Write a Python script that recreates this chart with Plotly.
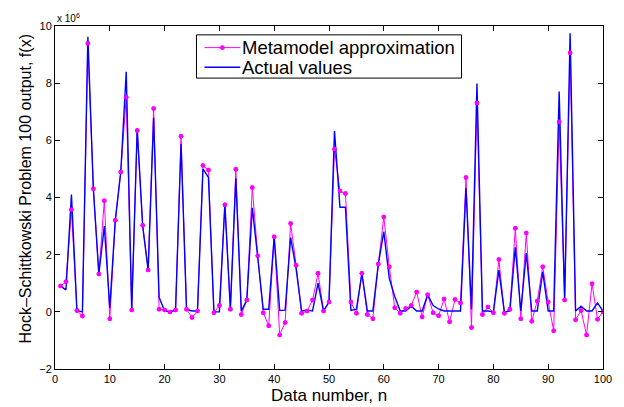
import plotly.graph_objects as go

n = list(range(1, 101))

# values in units of 1e6
metamodel = [0.9, 1.05, 3.58, 0.05, -0.15, 9.39, 4.31, 1.32, 3.89, -0.24,
             3.2, 4.89, 7.51, 0.06, 6.34, 3.03, 1.46, 7.11, 0.09, 0.06,
             -0.01, 0.06, 6.14, 0.09, -0.2, 0.03, 5.12, 4.96, -0.03, 0.22,
             3.75, 0.09, 4.99, -0.09, 0.41, 4.35, 1.96, -0.03, -0.49, 2.63,
             -0.81, -0.37, 3.09, 1.63, -0.05, 0.03, 0.41, 1.35, 0.03, 0.34,
             5.7, 4.23, 4.14, 0.34, -0.05, 1.35, -0.09, -0.24, 1.67, 3.32,
             1.58, 0.14, -0.05, 0.12, 0.22, 0.69, -0.18, 0.6, -0.03, -0.14,
             0.45, -0.35, 0.43, 0.31, 4.7, -0.55, 7.31, -0.09, 0.17, -0.03,
             1.83, -0.05, 0.09, 2.92, -0.24, 2.76, -0.33, 0.38, 1.58, 0.34,
             -0.66, 6.65, 0.41, 9.06, -0.28, 0.05, -0.81, 0.98, -0.26, 0.0]

actual = [0.9, 0.77, 4.1, 0.05, 0.0, 9.62, 4.3, 1.32, 3.0, 0.14,
          3.2, 4.89, 8.4, 0.06, 6.41, 3.0, 1.46, 6.79, 0.51, 0.03,
          0.0, 0.06, 5.87, 0.09, 0.03, 0.03, 5.0, 4.7, 0.0, 0.0,
          3.78, 0.09, 4.67, 0.03, 0.41, 3.64, 1.9, 0.09, 0.09, 2.63,
          0.05, 0.06, 2.6, 1.5, 0.03, 0.06, 0.03, 1.0, 0.03, 0.34,
          6.33, 3.66, 3.66, 0.05, 0.09, 1.35, 0.03, 0.03, 1.67, 2.81,
          1.17, 0.54, 0.03, 0.03, 0.2, 0.03, 0.03, 0.6, 0.22, 0.1,
          0.03, 0.03, 0.03, 0.03, 4.33, 0.09, 7.99, 0.03, 0.03, 0.0,
          1.46, 0.0, 0.03, 2.26, 0.03, 2.06, 0.03, 0.03, 1.4, 0.03,
          0.03, 7.71, 0.41, 9.75, 0.03, 0.2, 0.03, 0.03, 0.31, 0.03]

x_ticks = [0, 10, 20, 30, 40, 50, 60, 70, 80, 90, 100]
y_ticks = [-2, 0, 2, 4, 6, 8, 10]

series_names = ["Metamodel approximation", "Actual values"]

PINK = "#FF00FF"
BLUE = "#0000FF"
FONT = "Liberation Sans, Arial, sans-serif"

# the page body adds an 8px margin, so the figure is 8px smaller
OFF = 8
W, H = 624 - OFF, 407 - OFF
ML, MR, MT, MB = 55 - OFF, 19, 20 - OFF, 38
PW, PH = W - ML - MR, H - MT - MB


def px(x):  # page pixel -> paper x
    return (x - OFF - ML) / PW


def py(y):  # page pixel -> paper y
    return (H - MB - (y - OFF)) / PH


fig = go.Figure()
fig.add_trace(go.Scatter(x=n, y=metamodel, mode="lines+markers",
                         name=series_names[0],
                         line=dict(color=PINK, width=1),
                         marker=dict(color=PINK, size=4.5)))
fig.add_trace(go.Scatter(x=n, y=actual, mode="lines", name=series_names[1],
                         line=dict(color=BLUE, width=1.4)))
fig.add_trace(go.Scatter(x=n, y=metamodel, mode="markers", showlegend=False,
                         marker=dict(color=PINK, size=4.5), hoverinfo="skip"))

axis_common = dict(showgrid=False, zeroline=False, showline=True,
                   linecolor="black", linewidth=1, mirror="ticks",
                   ticks="inside", ticklen=5, tickcolor="black",
                   tickfont=dict(family=FONT, size=11, color="black"))

fig.update_xaxes(range=[0, 100], tickvals=x_ticks, **axis_common)
fig.update_yaxes(range=[-2, 10], tickvals=y_ticks, **axis_common)

# axis titles
fig.add_annotation(text="Data number, n", xref="paper", yref="paper",
                   x=0.5, y=0, xanchor="center", yanchor="middle",
                   yshift=-26, showarrow=False,
                   font=dict(family=FONT, size=17, color="black"))
fig.add_annotation(text="Hock\u2013Schittkowski Problem 100 output, f(x)",
                   xref="paper", yref="paper", x=0, y=0.5, textangle=-90,
                   xanchor="center", yanchor="middle", xshift=-30, yshift=8,
                   showarrow=False,
                   font=dict(family=FONT, size=16, color="black"))

# exponent label
fig.add_annotation(text="x 10<sup>6</sup>", xref="paper", yref="paper",
                   x=0.0, y=1.0, xanchor="left", yanchor="bottom",
                   xshift=0, showarrow=False,
                   font=dict(family=FONT, size=10, color="black"))

# legend (drawn as box + samples + labels)
fig.add_shape(type="rect", xref="paper", yref="paper",
              x0=px(197), x1=px(463), y0=py(73), y1=py(29),
              line=dict(color="black", width=1), fillcolor="white",
              layer="above")
rows = [(42, PINK, 1, True), (62, BLUE, 1.4, False)]
for (yc, col, lw, mk), name in zip(rows, series_names):
    fig.add_shape(type="line", xref="paper", yref="paper",
                  x0=px(205), x1=px(241), y0=py(yc), y1=py(yc),
                  line=dict(color=col, width=lw), layer="above")
    if mk:
        fig.add_shape(type="circle", xref="paper", yref="paper",
                      x0=px(221), x1=px(225), y0=py(yc + 2), y1=py(yc - 2),
                      line=dict(color=col, width=1), fillcolor=col,
                      layer="above")
    fig.add_annotation(text=name, xref="paper", yref="paper",
                       x=px(241), y=py(yc), xanchor="left", yanchor="middle",
                       showarrow=False,
                       font=dict(family=FONT, size=18.5, color="black"))

fig.update_layout(
    width=W, height=H,
    margin=dict(l=ML, r=MR, t=MT, b=MB),
    plot_bgcolor="white", paper_bgcolor="white",
    showlegend=False,
)

fig.write_html("out.html")
